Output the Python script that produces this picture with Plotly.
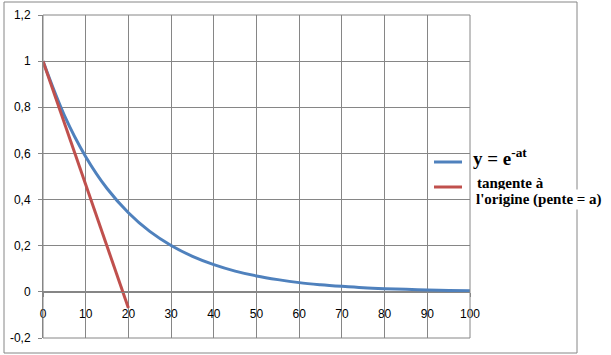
import plotly.graph_objects as go

# Data
t_vals = [0, 5, 10, 15, 20, 25, 30, 35, 40, 45, 50, 55, 60, 65, 70, 75, 80, 85, 90, 95, 100]
y_exp = [1.0, 0.765, 0.586, 0.448, 0.343, 0.262, 0.201, 0.154, 0.118, 0.090, 0.069,
         0.053, 0.040, 0.031, 0.024, 0.018, 0.014, 0.011, 0.008, 0.006, 0.005]
t_tan = [0, 20]
y_tan = [1.0, -0.07]

x_ticks = [0, 10, 20, 30, 40, 50, 60, 70, 80, 90, 100]
x_labels = ["0", "10", "20", "30", "40", "50", "60", "70", "80", "90", "100"]
y_ticks = [-0.2, 0, 0.2, 0.4, 0.6, 0.8, 1.0, 1.2]
y_labels = ["-0,2", "0", "0,2", "0,4", "0,6", "0,8", "1", "1,2"]

BLUE = "#4F81BD"
RED = "#C0504D"
GRID = "#868686"

fig = go.Figure()
fig.add_trace(go.Scatter(x=t_vals, y=y_exp, mode="lines", line=dict(color=BLUE, width=3, shape="spline"),
                         showlegend=False, hoverinfo="skip"))
fig.add_trace(go.Scatter(x=t_tan, y=y_tan, mode="lines", line=dict(color=RED, width=3),
                         showlegend=False, hoverinfo="skip"))

L, R, T, B = 43, 141, 15, 17
W, H = 611, 355
pw, ph = W - L - R, H - T - B


def px(xp):
    return (xp - L) / pw


def py(yp):
    return (H - B - yp) / ph


SERIF = "Liberation Serif, Times New Roman, serif"

fig.update_layout(
    width=W, height=H,
    margin=dict(l=L, r=R, t=T, b=B, autoexpand=False),
    paper_bgcolor="white", plot_bgcolor="white",
    font=dict(family="Liberation Sans, Arial, sans-serif", size=12, color="#000"),
    xaxis=dict(range=[0, 100], tickvals=x_ticks, ticktext=x_labels,
               showgrid=True, gridcolor=GRID, gridwidth=1,
               showline=True, linecolor=GRID, linewidth=1,
               anchor="free", position=0.2 / 1.4,
               ticks="outside", ticklen=4, tickcolor=GRID, automargin=False,
               ticklabelstandoff=7, zeroline=False, fixedrange=True),
    yaxis=dict(range=[-0.2, 1.2], tickvals=y_ticks, ticktext=y_labels,
               showgrid=True, gridcolor=GRID, gridwidth=1,
               showline=True, linecolor=GRID, linewidth=1,
               ticks="outside", ticklen=4, tickcolor=GRID, automargin=False,
               ticklabelstandoff=5, zeroline=False, fixedrange=True),
    shapes=[
        # chart border
        dict(type="rect", xref="paper", yref="paper", x0=px(4), x1=px(577), y0=py(353), y1=py(2),
             line=dict(color=GRID, width=1), layer="below"),
        # plot area top & right edges
        dict(type="rect", xref="paper", yref="paper", x0=0, x1=1, y0=0, y1=1,
             line=dict(color=GRID, width=1)),
        # legend marks
        dict(type="line", xref="paper", yref="paper", x0=px(434), x1=px(462), y0=py(162), y1=py(162),
             line=dict(color=BLUE, width=3)),
        dict(type="line", xref="paper", yref="paper", x0=px(434), x1=px(462), y0=py(187), y1=py(187),
             line=dict(color=RED, width=3)),
    ],
    annotations=[
        dict(xref="paper", yref="paper", x=px(472), y=py(157), xanchor="left", yanchor="middle",
             text="<b>y = e<sup>-at</sup></b>", showarrow=False,
             font=dict(family=SERIF, size=19, color="#000"),
             bgcolor="white", borderpad=0),
        dict(xref="paper", yref="paper", x=px(476), y=py(183), xanchor="left", yanchor="middle",
             text="<b>tangente à</b>", showarrow=False,
             font=dict(family=SERIF, size=15, color="#000"),
             borderpad=0),
        dict(xref="paper", yref="paper", x=px(474), y=py(200), xanchor="left", yanchor="middle",
             text="<b>l'origine (pente = a)</b>", showarrow=False,
             font=dict(family=SERIF, size=15, color="#000"),
             bgcolor="white", borderpad=1),
    ],
)

fig.write_html("out.html")
